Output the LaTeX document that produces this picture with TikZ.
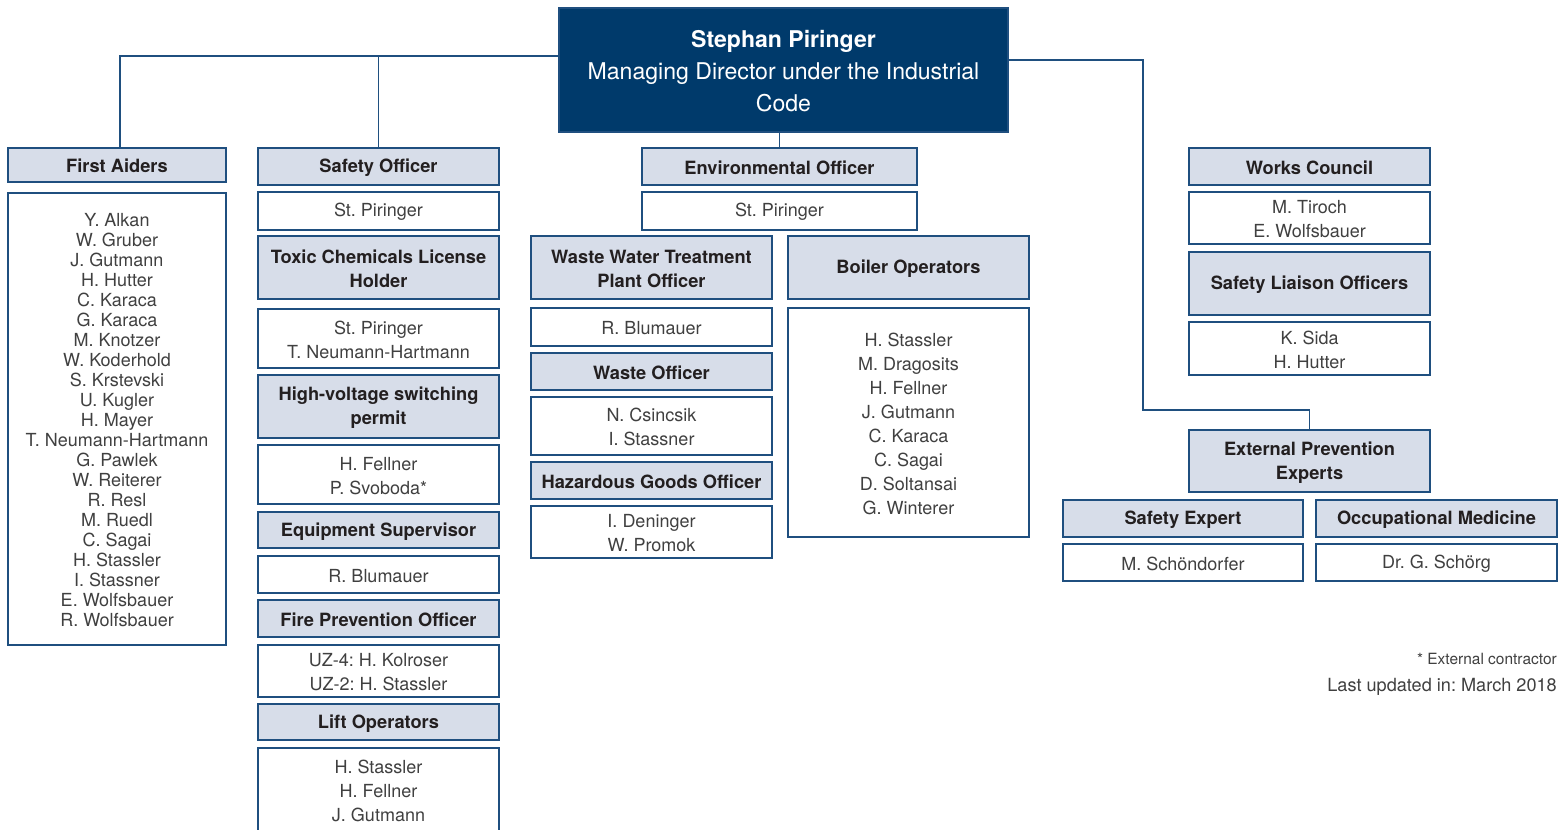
\documentclass[tikz,border=0pt]{standalone}
\usepackage{fontspec}
\setmainfont{TeX Gyre Heros}
\frenchspacing
\definecolor{navy}{HTML}{003A6B}
\definecolor{edge}{HTML}{1F4F7F}
\definecolor{hfill}{HTML}{D7DDE9}
\definecolor{ntext}{HTML}{404040}
\definecolor{htext}{HTML}{231F20}
\tikzset{
 base/.style={draw=edge, line width=1.2pt, inner sep=0pt, align=center, anchor=center},
 head/.style={base, fill=hfill, font=\fontsize{13.7}{18}\selectfont\bfseries, text=htext},
 names/.style={base, fill=white, font=\fontsize{13.5}{18}\selectfont, text=ntext},
 namesS/.style={base, fill=white, font=\fontsize{13.5}{15}\selectfont, text=ntext},
 topbox/.style={base, fill=navy, text=white, font=\fontsize{17.3}{24}\selectfont},
 conn/.style={draw=edge, line width=1.2pt},
}
\newcommand\bx[7]{\node[#6, minimum width={(#4-#2)*0.75pt}, minimum height={(#5-#3)*0.75pt}] (#1) at ({(#2+#4)/2},{(#3+#5)/2}) {};
\node[#6, draw=none, fill=none, yshift=-0.9pt] at (#1.center) {#7};}
\begin{document}
\frenchspacing
\begin{tikzpicture}[x=0.75pt,y=-0.75pt]
\clip (0,0) rectangle (1563,829);
\fill[white] (0,0) rectangle (1563,829);
% top
\bx{top}{559}{8}{1008}{132}{topbox}{{\bfseries Stephan Piringer}\\Managing Director under the Industrial\\Code}
% column 1
\bx{fa}{8}{148}{226}{182}{head}{First Aiders}
\bx{fal}{8}{193}{226}{645}{namesS}{Y. Alkan\\W. Gruber\\J. Gutmann\\H. Hutter\\C. Karaca\\G. Karaca\\M. Knotzer\\W. Koderhold\\S. Krstevski\\U. Kugler\\H. Mayer\\T. Neumann-Hartmann\\G. Pawlek\\W. Reiterer\\R. Resl\\M. Ruedl\\C. Sagai\\H. Stassler\\I. Stassner\\E. Wolfsbauer\\R. Wolfsbauer}
% column 2
\bx{so}{258}{148}{499}{185}{head}{Safety Officer}
\bx{so1}{258}{192}{499}{230}{names}{St. Piringer}
\bx{tc}{258}{236}{499}{299}{head}{Toxic Chemicals License\\Holder}
\bx{tc1}{258}{309}{499}{368}{names}{St. Piringer\\T. Neumann-Hartmann}
\bx{hv}{258}{375}{499}{438}{head}{High-voltage switching\\permit}
\bx{hv1}{258}{445}{499}{504}{names}{H. Fellner\\P. Svoboda*}
\bx{es}{258}{512}{499}{548}{head}{Equipment Supervisor}
\bx{es1}{258}{556}{499}{593}{names}{R. Blumauer}
\bx{fp}{258}{600}{499}{637}{head}{Fire Prevention Officer}
\bx{fp1}{258}{645}{499}{697}{names}{UZ-4: H. Kolroser\\UZ-2: H. Stassler}
\bx{lo}{258}{704}{499}{740}{head}{Lift Operators}
\bx{lo1}{258}{748}{499}{831}{names}{H. Stassler\\H. Fellner\\J. Gutmann}
% environmental
\bx{env}{642}{148}{917}{185}{head}{Environmental Officer}
\bx{env1}{642}{192}{917}{230}{names}{St. Piringer}
\bx{ww}{531}{236}{772}{299}{head}{Waste Water Treatment\\Plant Officer}
\bx{ww1}{531}{308}{772}{346}{names}{R. Blumauer}
\bx{wo}{531}{353}{772}{390}{head}{Waste Officer}
\bx{wo1}{531}{397}{772}{455}{names}{N. Csincsik\\I. Stassner}
\bx{hg}{531}{462}{772}{499}{head}{Hazardous Goods Officer}
\bx{hg1}{531}{506}{772}{558}{names}{I. Deninger\\W. Promok}
\bx{bo}{788}{236}{1029}{299}{head}{Boiler Operators}
\bx{bo1}{788}{308}{1029}{537}{names}{H. Stassler\\M. Dragosits\\H. Fellner\\J. Gutmann\\C. Karaca\\C. Sagai\\D. Soltansai\\G. Winterer}
% right
\bx{wc}{1189}{148}{1430}{185}{head}{Works Council}
\bx{wc1}{1189}{192}{1430}{244}{names}{M. Tiroch\\E. Wolfsbauer}
\bx{sl}{1189}{252}{1430}{315}{head}{Safety Liaison Officers}
\bx{sl1}{1189}{322}{1430}{375}{names}{K. Sida\\H. Hutter}
\bx{epe}{1189}{430}{1430}{492}{head}{External Prevention\\Experts}
\bx{se}{1063}{500}{1303}{537}{head}{Safety Expert}
\bx{se1}{1063}{544}{1303}{581}{names}{M. Schöndorfer}
\bx{om}{1316}{500}{1557}{537}{head}{Occupational Medicine}
\bx{om1}{1316}{544}{1557}{581}{names}{Dr. G. Schörg}
% footnotes
\node[anchor=base east, inner sep=0pt, font=\fontsize{11.6}{12}\selectfont, text=ntext] (fn) at (1557,664) {* External contractor};
\node[anchor=base east, inner sep=0pt, font=\fontsize{13.6}{15}\selectfont, text=ntext] (lu) at (1557,691) {Last updated in: March 2018};
% connectors
\coordinate (jl) at (120,56);
\coordinate (jr1) at (1143,60);
\coordinate (jr2) at (1143,410);
\draw[conn] (jl |- fa.north) -- (jl) -- (jl -| top.west);
\draw[conn] (so.north) -- (so.north |- jl);
\draw[conn] (env.north |- top.south) -- (env.north);
\draw[conn] (jr1 -| top.east) -- (jr1) -- (jr2) -- (jr2 -| epe.north) -- (epe.north);
\end{tikzpicture}
\end{document}
